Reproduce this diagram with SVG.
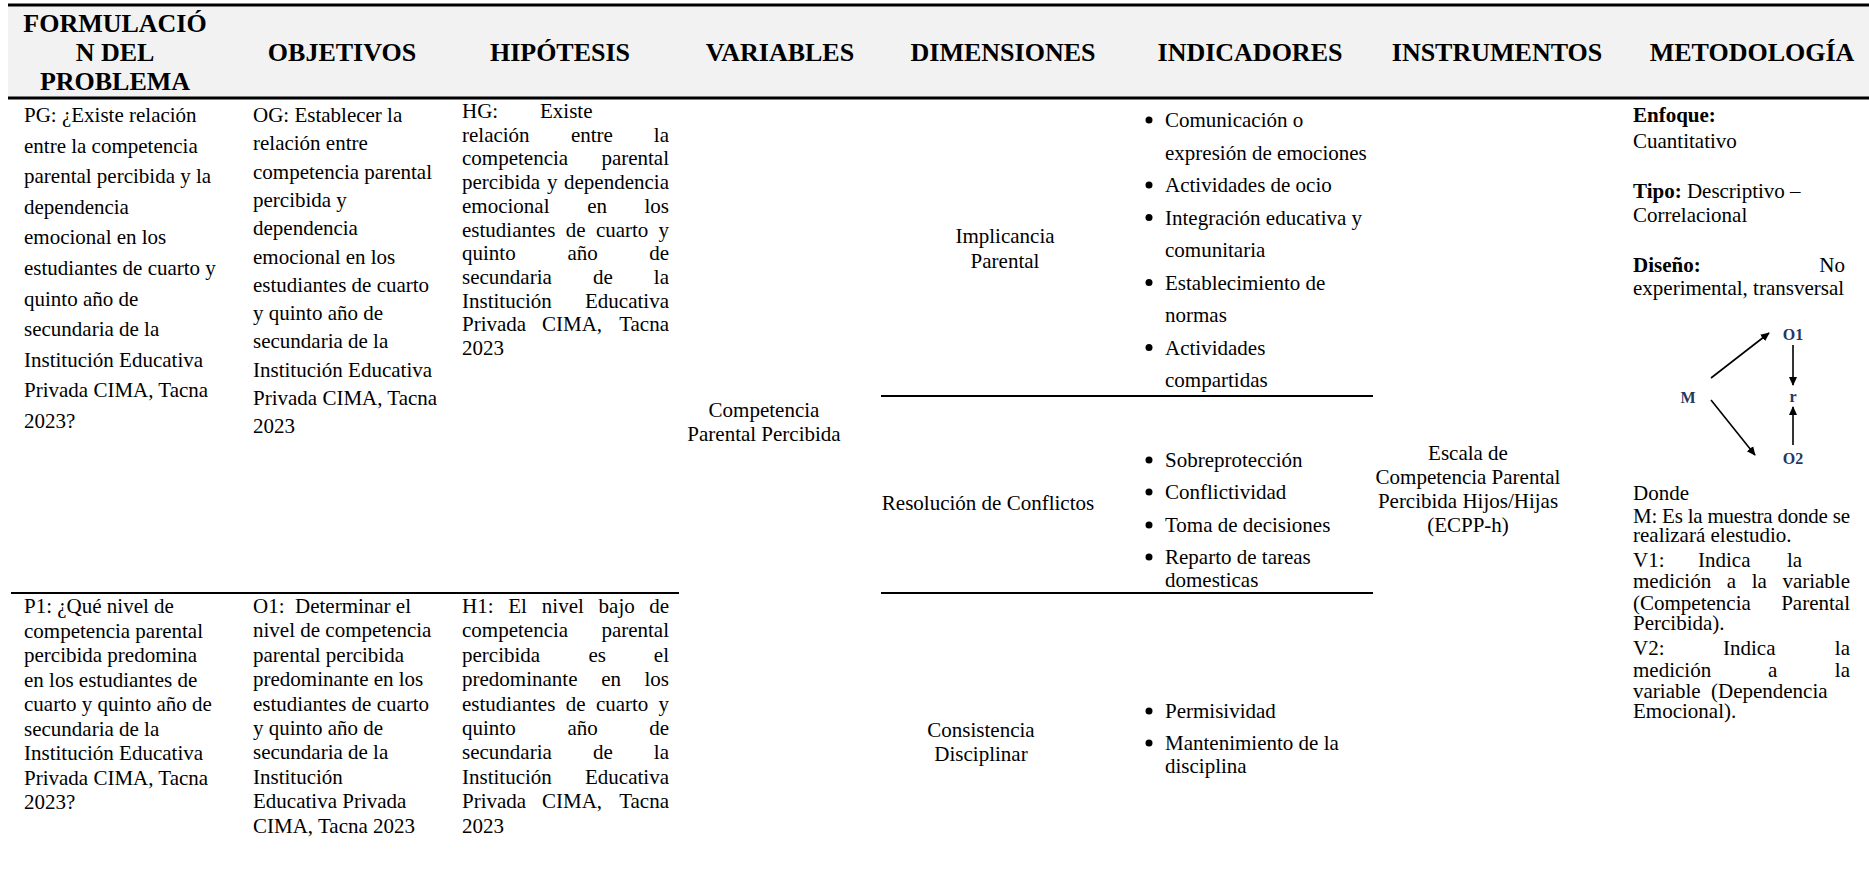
<svg xmlns="http://www.w3.org/2000/svg" width="1869" height="872" viewBox="0 0 1869 872">
<style>
text{font-family:"Liberation Serif","Times New Roman",serif;font-size:21px;fill:#000}
.h{font-weight:bold;font-size:26px;text-anchor:middle}
.c{text-anchor:middle}
.e{text-anchor:end}
.bd{font-weight:bold}
.rule{stroke:#000;stroke-width:2}
.thick{stroke:#000;stroke-width:3}
.dl{font-size:16px;font-weight:bold;fill:#26365f;text-anchor:middle}
.arr{stroke:#000;stroke-width:1.6;fill:none;marker-end:url(#ah)}
.dot{fill:#000}
</style>
<defs>
<marker id="ah" viewBox="0 0 10 10" refX="9" refY="5" markerWidth="9" markerHeight="9" orient="auto" markerUnits="userSpaceOnUse">
<path d="M0,0.5 L10,5 L0,9.5 z" fill="#000"/>
</marker>
</defs>
<rect width="1869" height="872" fill="#fff"/>

<g id="header">
<rect x="8" y="6" width="1861" height="91" fill="#f2f2f2"/>
<line class="thick" x1="8" y1="5" x2="1869" y2="5"/>
<line class="thick" x1="8" y1="98" x2="1869" y2="98"/>
<text class="h" x="115" y="32">FORMULACIÓ</text>
<text class="h" x="115" y="61">N DEL</text>
<text class="h" x="115" y="90">PROBLEMA</text>
<text class="h" x="342" y="61">OBJETIVOS</text>
<text class="h" x="560" y="61">HIPÓTESIS</text>
<text class="h" x="780" y="61">VARIABLES</text>
<text class="h" x="1003" y="61">DIMENSIONES</text>
<text class="h" x="1250" y="61">INDICADORES</text>
<text class="h" x="1497" y="61">INSTRUMENTOS</text>
<text class="h" x="1752" y="61">METODOLOGÍA</text>
</g>

<g id="problema-general">
<text x="24" y="122">PG: ¿Existe relación<tspan x="24" dy="30.6">entre la competencia</tspan><tspan x="24" dy="30.6">parental percibida y la</tspan><tspan x="24" dy="30.6">dependencia</tspan><tspan x="24" dy="30.6">emocional en los</tspan><tspan x="24" dy="30.6">estudiantes de cuarto y</tspan><tspan x="24" dy="30.6">quinto año de</tspan><tspan x="24" dy="30.6">secundaria de la</tspan><tspan x="24" dy="30.6">Institución Educativa</tspan><tspan x="24" dy="30.6">Privada CIMA, Tacna</tspan><tspan x="24" dy="30.6">2023?</tspan></text>
</g>

<g id="objetivo-general">
<text x="253" y="122">OG: Establecer la<tspan x="253" dy="28.3">relación entre</tspan><tspan x="253" dy="28.3">competencia parental</tspan><tspan x="253" dy="28.3">percibida y</tspan><tspan x="253" dy="28.3">dependencia</tspan><tspan x="253" dy="28.3">emocional en los</tspan><tspan x="253" dy="28.3">estudiantes de cuarto</tspan><tspan x="253" dy="28.3">y quinto año de</tspan><tspan x="253" dy="28.3">secundaria de la</tspan><tspan x="253" dy="28.3">Institución Educativa</tspan><tspan x="253" dy="28.3">Privada CIMA, Tacna</tspan><tspan x="253" dy="28.3">2023</tspan></text>
</g>

<g id="hipotesis-general">
<text x="462" y="118">HG:</text><text x="540" y="118">Existe</text>
<text x="462" y="141.7">relación</text><text x="570.9" y="141.7">entre</text><text class="e" x="669" y="141.7">la</text>
<text x="462" y="165.4">competencia</text><text class="e" x="669" y="165.4">parental</text>
<text x="462" y="189.1">percibida</text><text x="547" y="189.1">y</text><text class="e" x="669" y="189.1">dependencia</text>
<text x="462" y="212.8">emocional</text><text x="587.3" y="212.8">en</text><text class="e" x="669" y="212.8">los</text>
<text x="462" y="236.5">estudiantes</text><text x="565.7" y="236.5">de</text><text x="595.9" y="236.5">cuarto</text><text class="e" x="669" y="236.5">y</text>
<text x="462" y="260.2">quinto</text><text x="567.5" y="260.2">año</text><text class="e" x="669" y="260.2">de</text>
<text x="462" y="283.9">secundaria</text><text x="593" y="283.9">de</text><text class="e" x="669" y="283.9">la</text>
<text x="462" y="307.6">Institución</text><text class="e" x="669" y="307.6">Educativa</text>
<text x="462" y="331.3">Privada</text><text x="542" y="331.3">CIMA,</text><text class="e" x="669" y="331.3">Tacna</text>
<text x="462" y="355">2023</text>
</g>

<g id="variable">
<text class="c" x="764" y="417">Competencia</text>
<text class="c" x="764" y="441">Parental Percibida</text>
</g>

<g id="dim-implicancia">
<text class="c" x="1005" y="243">Implicancia</text>
<text class="c" x="1005" y="268">Parental</text>
</g>
<g id="dim-resolucion">
<text class="c" x="988" y="510">Resolución de Conflictos</text>
</g>
<g id="dim-consistencia">
<text class="c" x="981" y="737">Consistencia</text>
<text class="c" x="981" y="761">Disciplinar</text>
</g>

<g id="ind-implicancia">
<circle class="dot" cx="1149" cy="120" r="3.5"/>
<circle class="dot" cx="1149" cy="185" r="3.5"/>
<circle class="dot" cx="1149" cy="217.5" r="3.5"/>
<circle class="dot" cx="1149" cy="282.5" r="3.5"/>
<circle class="dot" cx="1149" cy="347.5" r="3.5"/>
<text x="1165" y="127">Comunicación o</text>
<text x="1165" y="159.5">expresión de emociones</text>
<text x="1165" y="192">Actividades de ocio</text>
<text x="1165" y="224.5">Integración educativa y</text>
<text x="1165" y="257">comunitaria</text>
<text x="1165" y="289.5">Establecimiento de</text>
<text x="1165" y="322">normas</text>
<text x="1165" y="354.5">Actividades</text>
<text x="1165" y="387">compartidas</text>
</g>
<g id="ind-resolucion">
<circle class="dot" cx="1149" cy="460" r="3.5"/>
<circle class="dot" cx="1149" cy="492" r="3.5"/>
<circle class="dot" cx="1149" cy="525" r="3.5"/>
<circle class="dot" cx="1149" cy="557" r="3.5"/>
<text x="1165" y="467">Sobreprotección</text>
<text x="1165" y="499">Conflictividad</text>
<text x="1165" y="532">Toma de decisiones</text>
<text x="1165" y="564">Reparto de tareas</text>
<text x="1165" y="587">domesticas</text>
</g>
<g id="ind-consistencia">
<circle class="dot" cx="1149" cy="711" r="3.5"/>
<circle class="dot" cx="1149" cy="743" r="3.5"/>
<text x="1165" y="718">Permisividad</text>
<text x="1165" y="750">Mantenimiento de la</text>
<text x="1165" y="773">disciplina</text>
</g>

<g id="separators">
<line class="rule" x1="881" y1="396" x2="1373" y2="396"/>
<line class="rule" x1="881" y1="593" x2="1373" y2="593"/>
<line class="rule" x1="11" y1="593" x2="679" y2="593"/>
</g>

<g id="instrumento">
<text class="c" x="1468" y="460">Escala de</text>
<text class="c" x="1468" y="484">Competencia Parental</text>
<text class="c" x="1468" y="508">Percibida Hijos/Hijas</text>
<text class="c" x="1468" y="532">(ECPP-h)</text>
</g>

<g id="metodologia">
<text class="bd" x="1633" y="122">Enfoque:</text>
<text x="1633" y="148">Cuantitativo</text>
<text x="1633" y="198"><tspan class="bd">Tipo:</tspan> Descriptivo –</text>
<text x="1633" y="222">Correlacional</text>
<text class="bd" x="1633" y="272">Diseño:</text><text class="e" x="1845" y="272">No</text>
<text x="1633" y="295">experimental, transversal</text>
<text x="1633" y="500">Donde</text>
<text x="1633" y="523" textLength="217" lengthAdjust="spacing">M: Es la muestra donde se</text>
<text x="1633" y="542">realizará elestudio.</text>
<text x="1633" y="567">V1:</text><text x="1698" y="567">Indica</text><text x="1787" y="567">la</text>
<text x="1633" y="588">medición</text><text x="1726.8" y="588">a</text><text x="1751.7" y="588">la</text><text class="e" x="1850" y="588">variable</text>
<text x="1633" y="610">(Competencia</text><text class="e" x="1850" y="610">Parental</text>
<text x="1633" y="630">Percibida).</text>
<text x="1633" y="655">V2:</text><text x="1723" y="655">Indica</text><text class="e" x="1850" y="655">la</text>
<text x="1633" y="677">medición</text><text x="1768" y="677">a</text><text class="e" x="1850" y="677">la</text>
<text x="1633" y="698">variable</text><text x="1711" y="698">(Dependencia</text>
<text x="1633" y="718">Emocional).</text>
</g>

<g id="diagram-M"><text class="dl" x="1688" y="403">M</text></g>
<g id="diagram-O1"><text class="dl" x="1793" y="340">O1</text></g>
<g id="diagram-r"><text class="dl" x="1793" y="402">r</text></g>
<g id="diagram-O2"><text class="dl" x="1793" y="464">O2</text></g>

<g id="connectors">
<line class="arr" x1="1711" y1="378" x2="1769" y2="333"/>
<line class="arr" x1="1711" y1="400" x2="1755" y2="455"/>
<line class="arr" x1="1793" y1="345" x2="1793" y2="385"/>
<line class="arr" x1="1793" y1="445" x2="1793" y2="407"/>
</g>

<g id="problema-1">
<text x="24" y="613">P1: ¿Qué nivel de<tspan x="24" dy="24.5">competencia parental</tspan><tspan x="24" dy="24.5">percibida predomina</tspan><tspan x="24" dy="24.5">en los estudiantes de</tspan><tspan x="24" dy="24.5">cuarto y quinto año de</tspan><tspan x="24" dy="24.5">secundaria de la</tspan><tspan x="24" dy="24.5">Institución Educativa</tspan><tspan x="24" dy="24.5">Privada CIMA, Tacna</tspan><tspan x="24" dy="24.5">2023?</tspan></text>
</g>

<g id="objetivo-1">
<text x="253" y="613">O1:&#160; Determinar el<tspan x="253" dy="24.4">nivel de competencia</tspan><tspan x="253" dy="24.4">parental percibida</tspan><tspan x="253" dy="24.4">predominante en los</tspan><tspan x="253" dy="24.4">estudiantes de cuarto</tspan><tspan x="253" dy="24.4">y quinto año de</tspan><tspan x="253" dy="24.4">secundaria de la</tspan><tspan x="253" dy="24.4">Institución</tspan><tspan x="253" dy="24.4">Educativa Privada</tspan><tspan x="253" dy="24.4">CIMA, Tacna 2023</tspan></text>
</g>

<g id="hipotesis-1">
<text x="462" y="613">H1:</text><text x="508.3" y="613">El</text><text x="541.8" y="613">nivel</text><text x="598.6" y="613">bajo</text><text class="e" x="669" y="613">de</text>
<text x="462" y="637.4">competencia</text><text class="e" x="669" y="637.4">parental</text>
<text x="462" y="661.8">percibida</text><text x="588.4" y="661.8">es</text><text class="e" x="669" y="661.8">el</text>
<text x="462" y="686.2">predominante</text><text x="601.3" y="686.2">en</text><text class="e" x="669" y="686.2">los</text>
<text x="462" y="710.6">estudiantes</text><text x="565.7" y="710.6">de</text><text x="595.9" y="710.6">cuarto</text><text class="e" x="669" y="710.6">y</text>
<text x="462" y="735">quinto</text><text x="567.5" y="735">año</text><text class="e" x="669" y="735">de</text>
<text x="462" y="759.4">secundaria</text><text x="593" y="759.4">de</text><text class="e" x="669" y="759.4">la</text>
<text x="462" y="783.8">Institución</text><text class="e" x="669" y="783.8">Educativa</text>
<text x="462" y="808.2">Privada</text><text x="542" y="808.2">CIMA,</text><text class="e" x="669" y="808.2">Tacna</text>
<text x="462" y="832.6">2023</text>
</g>
</svg>
